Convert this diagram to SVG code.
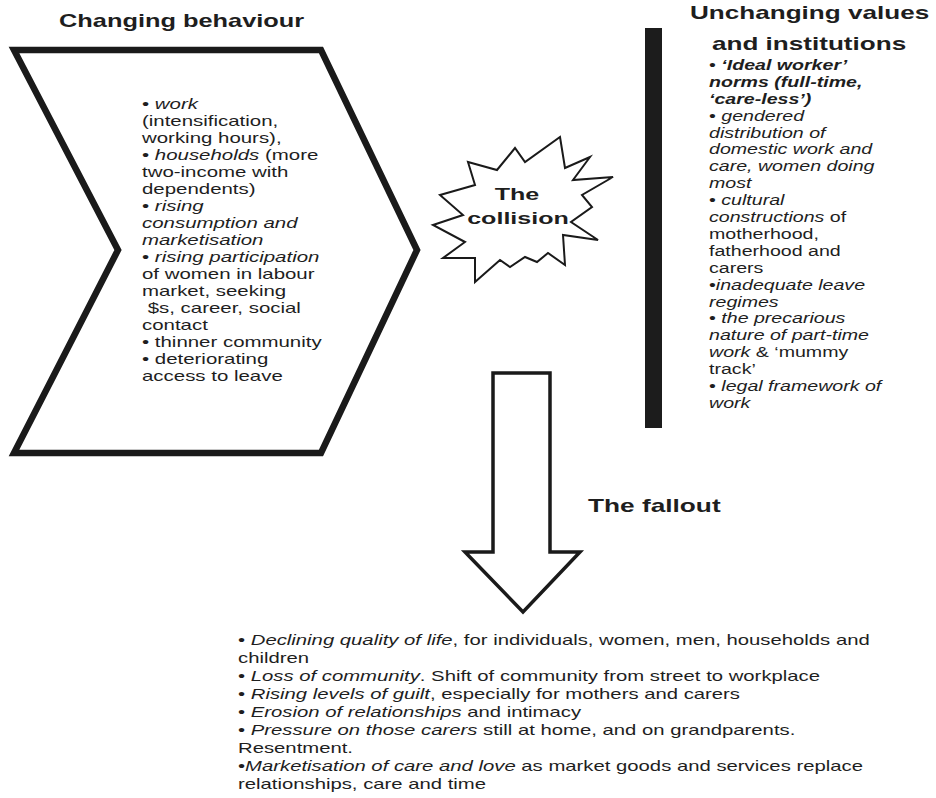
<svg xmlns="http://www.w3.org/2000/svg" width="936" height="798" viewBox="0 0 936 798">
<style>
text{font-family:"Liberation Sans",Arial,sans-serif;fill:#1e1e1e}
.h{font-weight:bold;font-size:17.5px}
.b{font-size:14px}
.i{font-style:italic}
.bi{font-style:italic;font-weight:bold}
.shape{fill:#fff;stroke:#1a1a1a;stroke-linejoin:miter}
</style>
<rect width="936" height="798" fill="#fff"/>

<g id="changing-behaviour">
<text class="h" transform="translate(59,27) scale(1.45,1)">Changing behaviour</text>
<path class="shape" stroke-width="6.5" d="M14,50 L321,50 L417,250 L321,453 L14,453 L118,250 Z"/>
<g class="b" transform="translate(142,0) scale(1.46,1)">
<text y="109.5">• <tspan class="i">work</tspan></text>
<text y="126.5">(intensification,</text>
<text y="143.5">working hours),</text>
<text y="160.5">• <tspan class="i">households</tspan> (more</text>
<text y="177.5">two-income with</text>
<text y="194.5">dependents)</text>
<text y="211.5">• <tspan class="i">rising</tspan></text>
<text y="228.5" class="i">consumption and</text>
<text y="245.5" class="i">marketisation</text>
<text y="262.5">• <tspan class="i">rising participation</tspan></text>
<text y="279.5">of women in labour</text>
<text y="296.5">market, seeking</text>
<text y="313.5" xml:space="preserve"> $s, career, social</text>
<text y="330.5">contact</text>
<text y="347.5">• thinner community</text>
<text y="364.5">• deteriorating</text>
<text y="381.5">access to leave</text>
</g>
</g>

<g id="collision">
<polygon class="shape" stroke-width="2" points="560,137 565,168 590,157 573,180 613,177 582,195 592,207 571,222 598,240 563,235 565,265 548,253 537,262 525,257 510,267 500,260 475,282 475,258 443,258 465,242 433,225 463,215 440,195 475,185 468,162 497,170 515,148 525,162"/>
<text class="h" style="font-size:16.5px" text-anchor="middle" transform="translate(517,200) scale(1.52,1)">The</text>
<text class="h" style="font-size:16.5px" text-anchor="middle" transform="translate(518,224) scale(1.52,1)">collision</text>
</g>

<g id="unchanging-values">
<rect x="645" y="28" width="17" height="400" fill="#1c1c1c"/>
<text class="h" style="font-size:18px" transform="translate(690,19) scale(1.45,1)">Unchanging values</text>
<text class="h" style="font-size:18px" transform="translate(712,50) scale(1.45,1)">and institutions</text>
<g class="b" transform="translate(709,0) scale(1.4,1)">
<text y="70">• <tspan class="bi">‘Ideal worker’</tspan></text>
<text y="86.9" class="bi">norms (full-time,</text>
<text y="103.8" class="bi">‘care-less’)</text>
<text y="120.7">• <tspan class="i">gendered</tspan></text>
<text y="137.6" class="i">distribution of</text>
<text y="154.5" class="i">domestic work and</text>
<text y="171.4" class="i">care, women doing</text>
<text y="188.3" class="i">most</text>
<text y="205.2">• <tspan class="i">cultural</tspan></text>
<text y="222.1"><tspan class="i">constructions</tspan> of</text>
<text y="239">motherhood,</text>
<text y="255.9">fatherhood and</text>
<text y="272.8">carers</text>
<text y="289.7">•<tspan class="i">inadequate leave</tspan></text>
<text y="306.6" class="i">regimes</text>
<text y="323.5">• <tspan class="i">the precarious</tspan></text>
<text y="340.4" class="i">nature of part-time</text>
<text y="357.3"><tspan class="i">work</tspan> &amp; ‘mummy</text>
<text y="374.2">track’</text>
<text y="391.1">• <tspan class="i">legal framework of</tspan></text>
<text y="408" class="i">work</text>
</g>
</g>

<g id="connectors">
<path id="fallout-arrow" class="shape" stroke-width="3.5" d="M493,373 L550,373 L550,552 L580,552 L523,612 L465,552 L493,552 Z"/>
</g>

<g id="fallout">
<text class="h" transform="translate(588,512) scale(1.5,1)">The fallout</text>
<g class="b" transform="translate(238,0) scale(1.45,1)">
<text y="645">• <tspan class="i">Declining quality of life</tspan>, for individuals, women, men, households and</text>
<text y="663">children</text>
<text y="681">• <tspan class="i">Loss of community</tspan>. Shift of community from street to workplace</text>
<text y="699">• <tspan class="i">Rising levels of guilt</tspan>, especially for mothers and carers</text>
<text y="717">• <tspan class="i">Erosion of relationships</tspan> and intimacy</text>
<text y="735">• <tspan class="i">Pressure on those carers</tspan> still at home, and on grandparents.</text>
<text y="753">Resentment.</text>
<text y="771">•<tspan class="i">Marketisation of care and love</tspan> as market goods and services replace</text>
<text y="789">relationships, care and time</text>
</g>
</g>
</svg>
